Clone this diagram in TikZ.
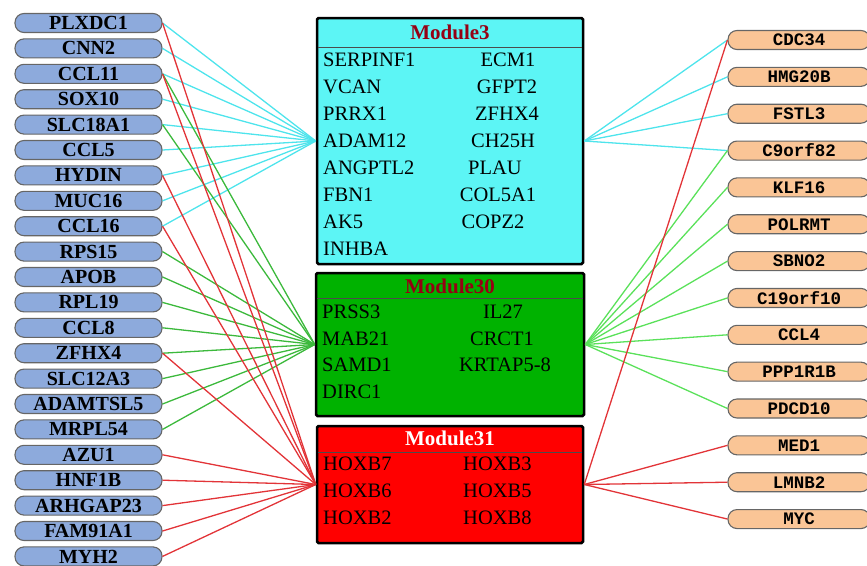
\documentclass[tikz,border=0pt]{standalone}
\usepackage{fontspec}
\setmainfont{Liberation Serif}
\newfontfamily\genemono{Liberation Mono}
\usetikzlibrary{positioning}

\definecolor{leftfill}{RGB}{141,170,220}
\definecolor{rightfill}{RGB}{250,197,150}
\definecolor{cyanbox}{RGB}{92,245,245}
\definecolor{greenbox}{RGB}{0,178,0}
\definecolor{redbox}{RGB}{255,0,0}
\definecolor{titlered}{RGB}{150,0,20}
\definecolor{cyanlink}{RGB}{78,228,236}
\definecolor{redlink}{RGB}{226,52,56}
\definecolor{greenlink}{RGB}{60,185,60}
\definecolor{lightgreenlink}{RGB}{90,225,90}

\tikzset{
  gene/.style={draw=black!60, line width=1.1pt, rounded corners=9pt,
               minimum height=19pt, inner sep=0pt},
  lgene/.style={gene, fill=leftfill, minimum width=147pt,
                font=\fontsize{20}{20}\selectfont\bfseries},
  rgene/.style={gene, fill=rightfill, minimum width=142pt,
                font=\genemono\fontsize{17.5}{17.5}\selectfont\bfseries},
  module/.style={draw=black, line width=2.5pt, rounded corners=1.5pt, inner sep=0pt},
  modtitle/.style={font=\fontsize{21}{21}\selectfont\bfseries, inner sep=0pt},
  member/.style={font=\fontsize{20.5}{20.5}\selectfont, inner sep=0pt},
  titlerule/.style={draw=black!70, line width=1pt},
  link/.style={line width=1.3pt}
}

\begin{document}
\begin{tikzpicture}[x=1pt, y=-1pt]
\useasboundingbox (0,0) rectangle (867,565);

% gene nodes, left side
\foreach \name [count=\i from 0] in {PLXDC1,CNN2,CCL11,SOX10,SLC18A1,CCL5,HYDIN,MUC16,CCL16,RPS15,APOB,RPL19,CCL8,ZFHX4,SLC12A3,ADAMTSL5,MRPL54,AZU1,HNF1B,ARHGAP23,FAM91A1,MYH2}
  \node[lgene] (\name) at (88.5,{23+25.4*\i}) {\name};

% gene nodes, right side
\foreach \name [count=\i from 0] in {CDC34,HMG20B,FSTL3,C9orf82,KLF16,POLRMT,SBNO2,C19orf10,CCL4,PPP1R1B,PDCD10,MED1,LMNB2,MYC}
  \node[rgene] (\name) at (799,{40+36.85*\i}) {\name};

% modules
\node[module, fill=cyanbox, minimum width=266pt, minimum height=246pt] (m3) at (450,141) {};
\node[module, fill=greenbox, minimum width=268pt, minimum height=143pt] (m30) at (450,344.5) {};
\node[module, fill=redbox, minimum width=266pt, minimum height=117pt] (m31) at (450,484.5) {};

\node[modtitle, text=titlered] (m3t) at (450,32) {Module3};
\draw[titlerule] (318,47) -- (582,47);
\node[modtitle, text=titlered] (m30t) at (450,286) {Module30};
\draw[titlerule] (317,298) -- (583,298);
\node[modtitle, text=white] (m31t) at (450,438) {Module31};
\draw[titlerule] (318,452) -- (582,452);

% module members
\foreach \gene [count=\i] in {SERPINF1,VCAN,PRRX1,ADAM12,ANGPTL2,FBN1,AK5,INHBA}
  \node[member, anchor=west] (m3a\i) at (323,{33+27*\i}) {\gene};
\foreach \gene/\x [count=\i] in {ECM1/508,GFPT2/507,ZFHX4/507,CH25H/503,PLAU/495,COL5A1/498,COPZ2/493}
  \node[member] (m3b\i) at (\x,{33+27*\i}) {\gene};

\foreach \gene [count=\i] in {PRSS3,MAB21,SAMD1,DIRC1}
  \node[member, anchor=west] (m30a\i) at (322,{285+26.7*\i}) {\gene};
\foreach \gene/\x [count=\i] in {IL27/503,CRCT1/502,KRTAP5-8/505}
  \node[member] (m30b\i) at (\x,{285+26.7*\i}) {\gene};

\foreach \gene [count=\i] in {HOXB7,HOXB6,HOXB2}
  \node[member, anchor=west] (m31a\i) at (323,{437+27*\i}) {\gene};
\foreach \gene [count=\i] in {HOXB3,HOXB5,HOXB8}
  \node[member, anchor=west] (m31b\i) at (463,{437+27*\i}) {\gene};

% links to the left
\foreach \g in {PLXDC1,CNN2,CCL11,SOX10,SLC18A1,CCL5,HYDIN,MUC16,CCL16}
  \draw[link, cyanlink] (\g.east) -- (m3.west);
\foreach \g in {CCL11,SLC18A1,RPS15,APOB,RPL19,CCL8,ZFHX4,SLC12A3,ADAMTSL5,MRPL54}
  \draw[link, greenlink] (\g.east) -- (m30.west);
\foreach \g in {PLXDC1,CCL11,HYDIN,CCL16,ZFHX4,AZU1,HNF1B,ARHGAP23,FAM91A1,MYH2}
  \draw[link, redlink] (\g.east) -- (m31.west);

% links to the right
\foreach \g in {CDC34,HMG20B,FSTL3,C9orf82}
  \draw[link, cyanlink] (m3.east) -- (\g.west);
\foreach \g in {C9orf82,KLF16,POLRMT,SBNO2,C19orf10,CCL4,PPP1R1B,PDCD10}
  \draw[link, lightgreenlink] (m30.east) -- (\g.west);
\foreach \g in {CDC34,MED1,LMNB2,MYC}
  \draw[link, redlink] (m31.east) -- (\g.west);
\end{tikzpicture}
\end{document}
